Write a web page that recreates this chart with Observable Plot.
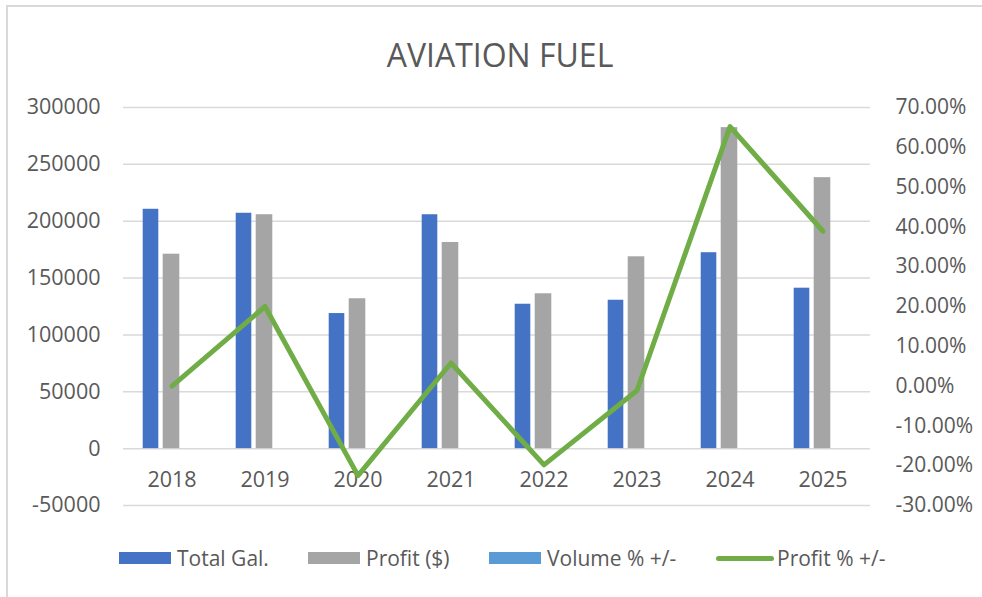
<!DOCTYPE html>
<html>
<head>
<meta charset="utf-8">
<script src="https://cdn.jsdelivr.net/npm/d3@7"></script>
<script src="https://cdn.jsdelivr.net/npm/@observablehq/plot@0.6"></script>
<style>
  html, body { margin:0; padding:0; width:982px; height:597px; overflow:hidden; background:#fff; font-family:"Open Sans", sans-serif; }
  #frame { position:absolute; left:6px; top:5px; width:1000px; height:640px; border:2px solid #d9d9d9; box-sizing:border-box; }
  #title { position:absolute; left:0; top:35px; width:1000px; text-align:center; font-size:32px; line-height:40px; color:#595959; }
  #chart { position:absolute; left:0; top:90px; }
  .leg { position:absolute; top:546px; height:24px; display:flex; align-items:center; font-size:21px; color:#595959; white-space:nowrap; }
  .sw { width:52px; height:12px; margin-right:6px; }
  .ln { width:58px; height:5px; border-radius:3px; margin-right:3px; }
</style>
</head>
<body>
<div id="frame"></div>
<div id="title">AVIATION FUEL</div>
<div id="chart"></div>
<div id="legend"></div>
<script>
const years = ["2018","2019","2020","2021","2022","2023","2024","2025"];
const totalGal = [210500, 207000, 118800, 205700, 127000, 130500, 172300, 141100];
const profit = [171000, 205700, 131800, 181300, 136200, 168700, 282300, 238300];
const volumePct = [0, 0, 0, 0, 0, 0, 0, 0];
const profitPct = [0.000, 0.200, -0.225, 0.058, -0.198, -0.011, 0.652, 0.389];
const leftTicks = [-50000, 0, 50000, 100000, 150000, 200000, 250000, 300000];
const rightTicks = [-0.3, -0.2, -0.1, 0, 0.1, 0.2, 0.3, 0.4, 0.5, 0.6, 0.7];
const seriesNames = ["Total Gal.", "Profit ($)", "Volume % +/-", "Profit % +/-"];
const seriesColors = ["#4472C4", "#A5A5A5", "#5B9BD5", "#70AD47"];

const data = years.map((y, i) => ({year: y, total: totalGal[i], profit: profit[i], vol: volumePct[i], pct: profitPct[i]}));
const toPrimary = p => -50000 + (p + 0.3) * 350000;
const fromPrimary = v => (v + 50000) / 350000 - 0.3;

const chart = Plot.plot({
  width: 982, height: 440,
  marginTop: 17, marginBottom: 25, marginLeft: 123, marginRight: 112,
  style: {fontFamily: "Open Sans, sans-serif", fontSize: "21px", color: "#595959", background: "transparent", overflow: "visible"},
  x: {type: "band", domain: years, padding: 0, label: null},
  y: {domain: [-50000, 300000], label: null},
  marks: [
    Plot.gridY(leftTicks, {stroke: "#d9d9d9", strokeOpacity: 1, strokeWidth: 1.5}),
    Plot.axisY(leftTicks, {anchor: "left", label: null, tickSize: 0, tickPadding: 23, tickFormat: d => String(d), fill: "#595959", fontSize: 21.5}),
    Plot.axisY(rightTicks.map(toPrimary), {anchor: "right", label: null, tickSize: 0, tickPadding: 25, fill: "#595959", fontSize: 21,
      tickFormat: v => { const p = Math.round(fromPrimary(v) * 100); return (p === 0 ? 0 : p).toFixed(2) + "%"; }}),
    Plot.barY(data, {x: "year", y: "total", fill: seriesColors[0], insetLeft: 17.7, insetRight: 59.7}),
    Plot.barY(data, {x: "year", y: "profit", fill: seriesColors[1], insetLeft: 37.7, insetRight: 38.7}),
    Plot.barY(data, {x: "year", y: "vol", fill: seriesColors[2], insetLeft: 58.7, insetRight: 18.7}),
    Plot.axisX({anchor: "bottom", label: null, tickSize: 0, tickPadding: 3, dy: -37, fill: "#595959", fontSize: 21.5}),
    Plot.line(data, {x: "year", y: d => toPrimary(d.pct), stroke: seriesColors[3], strokeWidth: 5, strokeLinecap: "round"})
  ]
});
document.getElementById("chart").appendChild(chart);

const legLeft = [119, 308, 489, 716];
const legend = document.getElementById("legend");
seriesNames.forEach((name, i) => {
  const item = document.createElement("div");
  item.className = "leg";
  item.style.left = legLeft[i] + "px";
  const sw = document.createElement("div");
  sw.className = i === 3 ? "ln" : "sw";
  sw.style.background = seriesColors[i];
  const tx = document.createElement("span");
  tx.textContent = name;
  item.appendChild(sw); item.appendChild(tx);
  legend.appendChild(item);
});
</script>
</body>
</html>
